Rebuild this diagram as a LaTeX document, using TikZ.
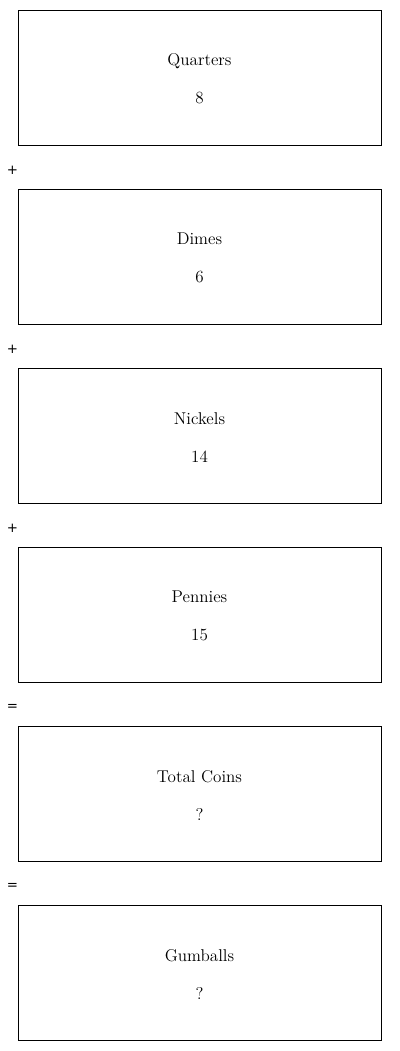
\documentclass[tikz,border=0pt]{standalone}
\usepackage{fontspec}
\newfontfamily\opfont{DejaVu Sans}
\usepackage{tikz}
\usetikzlibrary{positioning}

\newcommand{\toppad}{\rule{0pt}{11.5pt}}

\begin{document}
\begin{tikzpicture}[x=0.75pt, y=-0.75pt,
    coin/.style={draw, line width=0.7pt, minimum width=272.25pt, minimum height=101.25pt, align=center, font=\fontsize{12.8}{15}\selectfont, inner sep=0pt},
    op/.style={font=\opfont\fontsize{10}{12}\selectfont, inner sep=0pt}
]
\useasboundingbox (0,0) rectangle (400,1051);
\node[coin] (qtr) at (199.5,77.5) {\toppad Quarters\\[13.5pt]8};
\node[op] (plusA) at (12.5,170.5) {+};
\node[coin] (dim) at (199.5,256.5) {\toppad Dimes\\[13.5pt]6};
\node[op] (plusB) at (12.5,349.5) {+};
\node[coin] (nic) at (199.5,435.5) {\toppad Nickels\\[13.5pt]14};
\node[op] (plusC) at (12.5,528.5) {+};
\node[coin] (pen) at (199.5,614.5) {\toppad Pennies\\[13.5pt]15};
\node[op] (eqA) at (12.5,707.5) {=};
\node[coin] (tot) at (199.5,793.5) {\toppad Total Coins\\[13.5pt]?};
\node[op] (eqB) at (12.5,886.5) {=};
\node[coin] (gum) at (199.5,972.5) {\toppad Gumballs\\[13.5pt]?};
\end{tikzpicture}
\end{document}
